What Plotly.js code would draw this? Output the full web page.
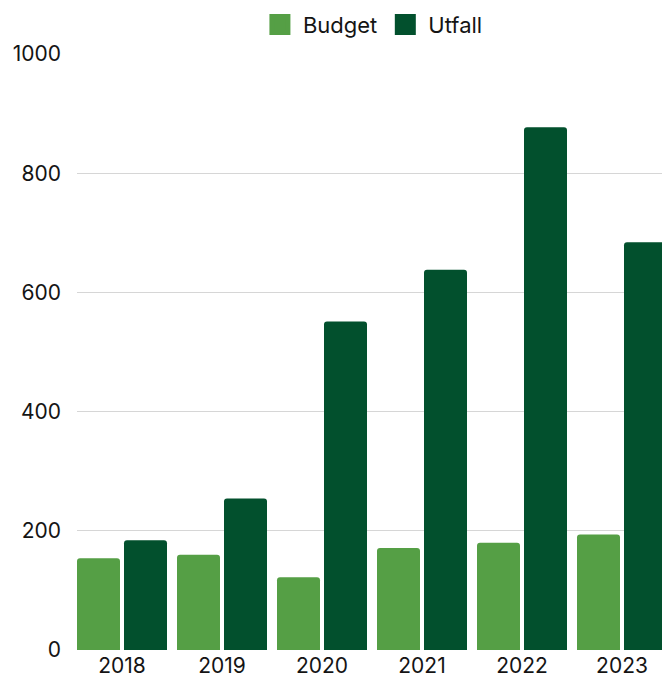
<!DOCTYPE html>
<html>
<head>
<meta charset="utf-8">
<script src="https://cdn.plot.ly/plotly-3.0.1.min.js"></script>
<style>
html,body{margin:0;padding:0;background:#fff;overflow:hidden;}
#chart{width:662px;height:678px;}
</style>
</head>
<body>
<div id="chart"></div>
<script>
var years = ['2018', '2019', '2020', '2021', '2022', '2023'];
var budget = [154, 160, 122, 171, 180, 194];
var utfall = [184, 254, 551, 638, 877, 684];
var yTicks = [0, 200, 400, 600, 800, 1000];
var budgetName = 'Budget';
var utfallName = 'Utfall';
var budgetColor = '#559f45';
var utfallColor = '#02502d';

var traces = [
  {type: 'bar', x: years, y: budget, name: budgetName, marker: {color: budgetColor}, showlegend: false, hoverinfo: 'x+y+name'},
  {type: 'bar', x: years, y: utfall, name: utfallName, marker: {color: utfallColor}, showlegend: false, hoverinfo: 'x+y+name'},
  {type: 'scatter', mode: 'markers', x: [null], y: [null], name: budgetName, legendgroup: 'b',
   marker: {symbol: 'square', size: 16, color: budgetColor, line: {width: 5, color: budgetColor}}, hoverinfo: 'skip'},
  {type: 'scatter', mode: 'markers', x: [null], y: [null], name: utfallName, legendgroup: 'u',
   marker: {symbol: 'square', size: 16, color: utfallColor, line: {width: 5, color: utfallColor}}, hoverinfo: 'skip'}
];

var layout = {
  width: 662, height: 678,
  margin: {l: 77, r: 0, t: 54, b: 28, pad: 0},
  paper_bgcolor: '#ffffff', plot_bgcolor: '#ffffff',
  font: {family: 'Inter, Lato, sans-serif', size: 21, color: '#141414'},
  barmode: 'group',
  bargap: 0.06,
  bargroupgap: 0.085,
  barcornerradius: 3,
  showlegend: true,
  legend: {orientation: 'h', x: 0.505, xanchor: 'center', y: 1.049, yanchor: 'middle',
           font: {size: 22, color: '#141414'}, itemwidth: 36, traceorder: 'normal'},
  xaxis: {type: 'category', range: [-0.45, 5.4], showgrid: false, zeroline: false,
          showline: false, ticks: '', ticklabelstandoff: 1, tickfont: {size: 21}, fixedrange: true},
  yaxis: {range: [0, 1000], tickvals: yTicks, ticktext: yTicks.map(String), showgrid: true,
          gridcolor: '#d6d6d6', gridwidth: 1, zeroline: false, showline: false, ticks: '',
          ticklabelstandoff: 15, tickfont: {size: 21}, fixedrange: true}
};

Plotly.newPlot('chart', traces, layout, {displayModeBar: false, staticPlot: true});
</script>
</body>
</html>
